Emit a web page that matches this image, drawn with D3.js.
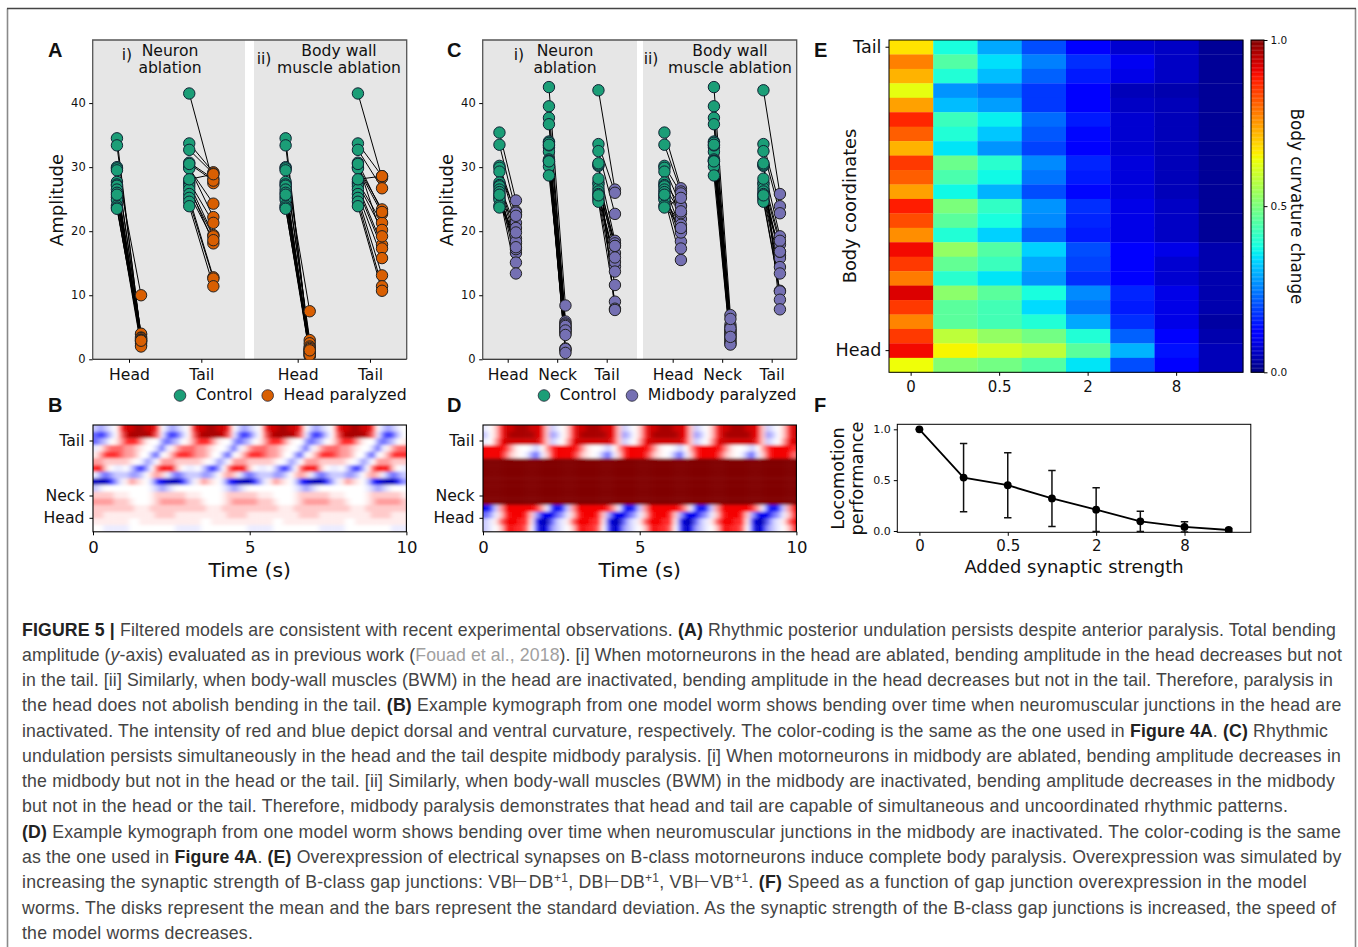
<!DOCTYPE html>
<html>
<head>
	<meta charset="utf-8">
	<title>Figure 5</title>
	<script src="https://d3js.org/d3.v7.min.js"></script>
	<style>
		html, body { margin: 0; background: #fff; }
		svg { display: block; }
		text { font-family: "DejaVu Sans", sans-serif; fill: #111; }
		.caption text, .letter { font-family: "Liberation Sans", Arial, sans-serif; }
	</style>
</head>
<body>
	<div class="chart"></div>

	<script type="text/javascript">
		// ---- panel A / C paired amplitudes, same index = same worm
		const headControlA = [34.5, 33.4, 30, 29.8, 29.5, 27.7, 27.3, 27.1, 26.5, 26, 25.3, 24.9, 24, 23.7, 23.5, 25.7]
		const headParalyzedAi = [3.2, 3.6, 10, 3.9, 4, 3.4, 3.3, 2.9, 2.8, 2.5, 2.2, 2.7, 2, 3.1, 3.0, 2.9]
		const headParalyzedAii = [1.2, 1.5, 7.5, 3, 2.5, 1, 0.8, 1.4, 0.6, 2, 0.5, 1.8, 1.1, 0.7, 1.6, 1.4]
		const tailControlA = [41.5, 33.7, 30, 29.8, 27.7, 27.4, 27, 26.5, 25.8, 25.2, 24.6, 23.9, 32.7, 30.7, 30.5, 28.1]
		const tailParalyzedAi = [27.5, 29.2, 22.2, 24.3, 21.3, 19.4, 18.1, 19.2, 18.6, 12.8, 12.6, 11.4, 29, 28.2, 27.9, 28.9]
		const tailParalyzedAii = [28.3, 28.6, 23.4, 22.7, 21.3, 20.2, 17.9, 17.3, 15.8, 13.1, 11.4, 10.7, 26.7, 23, 19.2, 28.6]

		const headControlC = [35.4, 33.5, 30.2, 29.9, 29.3, 27.6, 27.2, 27, 26.5, 26.1, 25.6, 25.2, 24.9, 24, 23.7, 25.7]
		const headParalyzedCi = [24.8, 23.1, 22.6, 21.3, 22.9, 18.9, 20.5, 18.1, 16.6, 15.1, 13.4, 18.4, 17.2, 22.4, 19.8, 17.5]
		const headParalyzedCii = [26.7, 26.2, 25.9, 24, 21.9, 23.9, 20.2, 22.8, 18.4, 17.3, 19.8, 15.5, 21, 20.5, 25.2, 23.1]
		const neckControlC = [42.5, 39.5, 37.7, 36.7, 34, 33.8, 33.1, 32.4, 31.2, 31, 30.9, 30.1, 28.7, 33.4, 33.5, 30.9]
		const neckParalyzedCi = [8.4, 5.9, 5.6, 5.4, 5, 4.8, 4.6, 4.3, 4, 1.7, 1.4, 1.6, 5.2, 4.5, 3.8, 1]
		const neckParalyzedCii = [6.9, 5.4, 5, 4.6, 4.4, 4.1, 3.9, 3.7, 3.3, 3, 2.7, 2.4, 2.3, 4.8, 6.3, 3.5]
		const tailControlC = [42, 33.6, 32.5, 30.2, 27.6, 27.3, 26.7, 26.2, 25.8, 25.4, 25, 24.6, 30.4, 30.6, 28.2, 25.6]
		const tailParalyzedCi = [26.5, 26, 22.7, 18.5, 18.1, 16.6, 17.7, 14.5, 15.2, 13.7, 11.6, 9, 7.9, 7.7, 17.7, 15.9]
		const tailParalyzedCii = [25.8, 23.9, 22.8, 19.2, 17.9, 16.2, 15.8, 16.8, 14.4, 13.4, 10.7, 10.6, 9.3, 7.8, 18.5, 16.8]

		// ---- kymographs B / D: one string per body row (tail at top), one char per time step
		// '.' = 0, 1-9 = red strength, a-i = blue strength. Spaces only split the wave cycles.
		const kymoB = [
			'bcba.57788775. bcba.57788775. bcba.57788775. bcba.57788775. bcba.',
			'dedb.47888874a dedb.47888874a dedb.47888874a dedb.47888874a dedb.',
			'dcb.1355531..c dcb.1355531..c dcb.1355531..c dcb.1355531..c dcb.1',
			'a134443321..bd a134443321..bd a134443321..bd a134443321..bd a1344',
			'135554332..cd. 135554332..cd. 135554332..cd. 135554332..cd. 13555',
			'33222221.acb.3 33222221.acb.3 33222221.acb.3 33222221.acb.3 33222',
			'562.aa.bdec.46 562.aa.bdec.46 562.aa.bdec.46 562.aa.bdec.46 562.a',
			'acdcbbbccb.232 acdcbbbccb.232 acdcbbbccb.232 acdcbbbccb.232 acdcb',
			'gggeca1321.bef gggeca1321.bef gggeca1321.bef gggeca1321.bef gggec',
			'ba.........abc ba.........abc ba.........abc ba.........abc ba...',
			'2222111....122 2222111....122 2222111....122 2222111....122 22221',
			'33332221...123 33332221...123 33332221...123 33332221...123 33332',
			'22222222111222 22222222111222 22222222111222 22222222111222 22222',
			'22111111111122 22111111111122 22111111111122 22111111111122 22111',
			'1111111..11111 1111111..11111 1111111..11111 1111111..11111 11111',
			'..aaaaa....... ..aaaaa....... ..aaaaa....... ..aaaaa....... ..aaa'
		]
		const kymoD = [
			'a.25778887762b a.25778887762b a.25778887762b a.25778887762b a.257',
			'b.25788888762c b.25788888762c b.25788888762c b.25788888762c b.257',
			'a.36777777752b a.36777777752b a.36777777752b a.36777777752b a.367',
			'6666531..ab.35 6666531..ab.35 6666531..ab.35 6666531..ab.35 66665',
			'6666421.acda25 6666421.acda25 6666421.acda25 6666421.acda25 66664',
			'99999999999999 99999999999999 99999999999999 99999999999999 99999',
			'99999999999999 99999999999999 99999999999999 99999999999999 99999',
			'99999999999999 99999999999999 99999999999999 99999999999999 99999',
			'99999999999999 99999999999999 99999999999999 99999999999999 99999',
			'99999999999999 99999999999999 99999999999999 99999999999999 99999',
			'99999999999999 99999999999999 99999999999999 99999999999999 99999',
			'99999999999999 99999999999999 99999999999999 99999999999999 99999',
			'feb366666653ae feb366666653ae feb366666653ae feb366666653ae feb36',
			'dca2566652cfff dca2566652cfff dca2566652cfff dca2566652cfff dca25',
			'ba14666551fggd ba14666551fggd ba14666551fggd ba14666551fggd ba146',
			'ba.256554.egfc ba.256554.egfc ba.256554.egfc ba.256554.egfc ba.25'
		]
		const kymoTicks = [0, 5, 10]
		const kymoBodyTicks = ['Tail', 'Neck', 'Head']

		// ---- panel E heatmap, jet position per cell: rows tail -> head, columns strength
		const heatRows = [
			[.67, .38, .29, .2, .12, .07, .06, .02],
			[.775, .45, .345, .25, .17, .1, .06, .02],
			[.72, .39, .31, .22, .15, .09, .06, .02],
			[.63, .27, .24, .18, .12, .05, .04, .02],
			[.74, .31, .28, .18, .12, .06, .05, .02],
			[.87, .42, .36, .23, .15, .07, .05, .02],
			[.81, .39, .32, .21, .13, .07, .05, .02],
			[.72, .35, .27, .19, .12, .07, .05, .02],
			[.85, .48, .4, .26, .16, .08, .05, .02],
			[.81, .44, .37, .24, .15, .08, .05, .02],
			[.74, .37, .3, .2, .13, .08, .05, .02],
			[.88, .5, .41, .27, .17, .09, .06, .02],
			[.83, .46, .38, .26, .16, .09, .06, .02],
			[.76, .39, .33, .22, .15, .09, .06, .02],
			[.9, .53, .45, .33, .2, .11, .09, .04],
			[.85, .47, .42, .29, .19, .11, .07, .04],
			[.78, .4, .35, .27, .17, .11, .07, .04],
			[.92, .52, .46, .38, .26, .16, .09, .04],
			[.85, .46, .43, .34, .24, .15, .09, .04],
			[.77, .46, .43, .39, .29, .17, .09, .03],
			[.85, .58, .53, .49, .39, .22, .12, .04],
			[.9, .65, .61, .58, .46, .3, .14, .05],
			[.64, .51, .49, .45, .35, .2, .12, .05]
		]
		const strengthTicks = ['0', '', '0.5', '', '2', '', '8', '']

		// ---- panel F
		const speedMean = [1, .525, .45, .32, .21, .095, .04, .01]
		const speedStd = [0, .335, .32, .275, .215, .1, .05, .015]

		// ---- caption, one entry per printed line: [text, style]
		const captionLines = [
			[[1336, 'FIGURE 5 | ', 'b'], ['Filtered models are consistent with recent experimental observations. '], ['(A) ', 'b'], ['Rhythmic posterior undulation persists despite anterior paralysis. Total bending']],
			[[1342, 'amplitude ('], ['y', 'i'], ['-axis) evaluated as in previous work ('], ['Fouad et al., 2018', 'g'], ['). [i] When motorneurons in the head are ablated, bending amplitude in the head decreases but not']],
			[[1333, 'in the tail. [ii] Similarly, when body-wall muscles (BWM) in the head are inactivated, bending amplitude in the head decreases but not in the tail. Therefore, paralysis in']],
			[[1341.5, 'the head does not abolish bending in the tail. '], ['(B) ', 'b'], ['Example kymograph from one model worm shows bending over time when neuromuscular junctions in the head are']],
			[[1328, 'inactivated. The intensity of red and blue depict dorsal and ventral curvature, respectively. The color-coding is the same as the one used in '], ['Figure 4A', 'b'], ['. '], ['(C) ', 'b'], ['Rhythmic']],
			[[1341, 'undulation persists simultaneously in the head and the tail despite midbody paralysis. [i] When motorneurons in midbody are ablated, bending amplitude decreases in']],
			[[1335, 'the midbody but not in the head or the tail. [ii] Similarly, when body-wall muscles (BWM) in the midbody are inactivated, bending amplitude decreases in the midbody']],
			[[1288, 'but not in the head or the tail. Therefore, midbody paralysis demonstrates that head and tail are capable of simultaneous and uncoordinated rhythmic patterns.']],
			[[1341, '(D) ', 'b'], ['Example kymograph from one model worm shows bending over time when neuromuscular junctions in the midbody are inactivated. The color-coding is the same']],
			[[1341.5, 'as the one used in '], ['Figure 4A', 'b'], ['. '], ['(E) ', 'b'], ['Overexpression of electrical synapses on B-class motorneurons induce complete body paralysis. Overexpression was simulated by']],
			[[1307, 'increasing the synaptic strength of B-class gap junctions: VB\u22a2DB'], ['+1', 's'], [', DB\u22a2DB'], ['+1', 's'], [', VB\u22a2VB'], ['+1', 's'], ['. '], ['(F) ', 'b'], ['Speed as a function of gap junction overexpression in the model']],
			[[1336, 'worms. The disks represent the mean and the bars represent the standard deviation. As the synaptic strength of the B-class gap junctions is increased, the speed of']],
			[[253, 'the model worms decreases.']]
		]

		var width = 1358
		var height = 947
		var green = '#1b9e77', orange = '#d95f02', purple = '#7570b3'

		var svg = d3.select('.chart').append('svg').attr('width', width).attr('height', height)
		var defs = svg.append('defs')

		// page frame
		svg.append('path').attr('d', 'M7.5,947V8.5M1355.5,8.5V947').attr('fill', 'none').attr('stroke', '#8a8a8a').attr('stroke-width', 1.6)
		svg.append('path').attr('d', 'M7,8.5H1356').attr('fill', 'none').attr('stroke', '#444').attr('stroke-width', 1.3)

		function letter(s, x, y) {
			svg.append('text').attr('class', 'letter').attr('x', x).attr('y', y)
				.attr('font-size', 20).attr('font-weight', 'bold').style('fill', '#111').text(s)
		}
		function label(g, s, x, y, size, rotate) {
			var t = g.append('text').attr('text-anchor', 'middle').attr('font-size', size).text(s)
			if (rotate) t.attr('transform', `translate(${x},${y}) rotate(${rotate})`)
			else t.attr('x', x).attr('y', y)
			return t
		}
		function clip(id, x, y, w, h) {
			defs.append('clipPath').attr('id', id).append('rect').attr('x', x).attr('y', y).attr('width', w).attr('height', h)
			return `url(#${id})`
		}
		function frame(g, x0, y0, x1, y1) {
			g.append('path').attr('d', `M${x0},${y1}V${y0}H${x1}V${y1}`).attr('fill', 'none').attr('stroke', '#555').attr('stroke-width', 1.3)
			g.append('path').attr('d', `M${x0},${y1}H${x1}`).attr('stroke', '#000').attr('stroke-width', 1.1)
		}
		function styleAxis(a, size) {
			a.select('.domain').remove()
			a.selectAll('line').attr('stroke', '#000')
			a.selectAll('text').attr('font-size', size).style('font-family', '"DejaVu Sans"')
			a.attr('font-family', null)
		}

		// paired dot panels A and C
		function pairPanel(o) {
			var g = svg.append('g')
			var y = d3.scaleLinear().domain([0, 49.85]).range([359.3, 40])
			var x = d3.scaleLinear().domain([0, 1]).range(o.xRange)
			o.bands.forEach(b => {
				g.append('rect').attr('x', b[0]).attr('y', 40).attr('width', b[1] - b[0]).attr('height', 319.3).attr('fill', '#e6e6e6')
			})
			frame(g, o.left, 40, o.left + 314, 359.3)

			var plot = g.append('g').attr('clip-path', clip(o.id, o.left, 40, 314, 319.3))
			o.groups.forEach(d => {
				var x0 = x(d.pos - 1 / 6), x1 = x(d.pos + 1 / 6)
				plot.append('g').selectAll('line').data(d.before).join('line')
					.attr('x1', x0).attr('x2', x1)
					.attr('y1', v => y(v)).attr('y2', (v, i) => y(d.after[i]))
					.attr('stroke', '#000').attr('stroke-width', 1)
				plot.append('g').selectAll('circle').data(d.before).join('circle')
					.attr('cx', x0).attr('cy', v => y(v)).attr('r', 5.7)
					.attr('fill', green).attr('stroke', '#123').attr('stroke-width', 1)
				plot.append('g').selectAll('circle').data(d.after).join('circle')
					.attr('cx', x1).attr('cy', v => y(v)).attr('r', 5.7)
					.attr('fill', o.color).attr('stroke', '#222').attr('stroke-width', 1)
			})

			var ax = g.append('g').attr('transform', 'translate(0,359.3)')
				.call(d3.axisBottom(x).tickValues(o.groups.map(d => d.pos)).tickFormat((d, i) => o.groups[i].name).tickSize(3.5).tickPadding(6))
			styleAxis(ax, 15.6)
			var ay = g.append('g').attr('transform', `translate(${o.left},0)`)
				.call(d3.axisLeft(y).tickValues([0, 10, 20, 30, 40]).tickSize(3.5).tickPadding(3.5))
			styleAxis(ay, 11.5)
			label(g, 'Amplitude', o.left - 30, 200, 18, -90)

			o.titles.forEach(t => {
				label(g, t.roman, t.romanX, t.romanY, 15.6)
				label(g, t.line1, t.x, 56, 15.6)
				label(g, t.line2, t.x, 73, 15.6)
			})
			o.legend.forEach(l => {
				g.append('circle').attr('cx', l.cx).attr('cy', 395.5).attr('r', 5.8).attr('fill', l.color).attr('stroke', '#223').attr('stroke-width', 0.8)
				g.append('text').attr('x', l.cx + 15.8).attr('y', 399.5).attr('font-size', 15.7).text(l.text)
			})
		}

		pairPanel({
			id: 'clipA', left: 92.7, xRange: [129, 201.3], color: orange,
			bands: [[93, 245], [254, 406.7]],
			groups: [
				{ name: 'Head', pos: 0, before: headControlA, after: headParalyzedAi },
				{ name: 'Tail', pos: 1, before: tailControlA, after: tailParalyzedAi },
				{ name: 'Head', pos: 2.333, before: headControlA, after: headParalyzedAii },
				{ name: 'Tail', pos: 3.333, before: tailControlA, after: tailParalyzedAii }
			],
			titles: [
				{ roman: 'i)', romanX: 127, romanY: 60, line1: 'Neuron', line2: 'ablation', x: 170 },
				{ roman: 'ii)', romanX: 264, romanY: 64, line1: 'Body wall', line2: 'muscle ablation', x: 339 }
			],
			legend: [{ cx: 180, color: green, text: 'Control' }, { cx: 267.7, color: orange, text: 'Head paralyzed' }]
		})
		pairPanel({
			id: 'clipC', left: 482.7, xRange: [507.7, 557.2], color: purple,
			bands: [[483, 637], [643, 796.7]],
			groups: [
				{ name: 'Head', pos: 0, before: headControlC, after: headParalyzedCi },
				{ name: 'Neck', pos: 1, before: neckControlC, after: neckParalyzedCi },
				{ name: 'Tail', pos: 2, before: tailControlC, after: tailParalyzedCi },
				{ name: 'Head', pos: 3.333, before: headControlC, after: headParalyzedCii },
				{ name: 'Neck', pos: 4.333, before: neckControlC, after: neckParalyzedCii },
				{ name: 'Tail', pos: 5.333, before: tailControlC, after: tailParalyzedCii }
			],
			titles: [
				{ roman: 'i)', romanX: 519, romanY: 60, line1: 'Neuron', line2: 'ablation', x: 565 },
				{ roman: 'ii)', romanX: 651, romanY: 64, line1: 'Body wall', line2: 'muscle ablation', x: 730 }
			],
			legend: [{ cx: 544, color: green, text: 'Control' }, { cx: 632, color: purple, text: 'Midbody paralyzed' }]
		})

		// kymographs
		var seismic = d3.scaleLinear().domain([-1, -.5, 0, .5, 1]).range(['#00004c', '#0000ff', '#ffffff', '#ff0000', '#800000'])
		function level(c) {
			if (c === '.') return 0
			var n = '123456789'.indexOf(c)
			if (n >= 0) return Math.pow((n + 1) / 9, 1.5)
			return -Math.pow(('abcdefghi'.indexOf(c) + 1) / 9, 1.5)
		}
		defs.append('filter').attr('id', 'soft').attr('filterUnits', 'userSpaceOnUse')
			.attr('x', 0).attr('y', 380).attr('width', 900).attr('height', 200)
			.append('feGaussianBlur').attr('stdDeviation', '2.6 1.8')

		function kymo(id, rows, left) {
			var x0 = left, x1 = left + 313.4, y0 = 425, y1 = 531.8
			var g = svg.append('g')
			var cells = rows.map(r => r.replace(/ /g, ''))
			var nCols = d3.max(cells, r => r.length)
			var col = d3.scaleBand().domain(d3.range(nCols)).range([x0, x1])
			var row = d3.scaleBand().domain(d3.range(cells.length)).range([y0, y1])
			var inner = g.append('g').attr('clip-path', clip(id, x0, y0, x1 - x0, y1 - y0))
				.append('g').attr('filter', 'url(#soft)')
			cells.forEach((r, j) => {
				inner.append('g').selectAll('rect').data(r.split('')).join('rect')
					.attr('x', (c, i) => col(i) - (i === 0 ? 10 : 0))
					.attr('width', (c, i) => col.bandwidth() + .4 + (i === 0 || i === nCols - 1 ? 10 : 0))
					.attr('y', row(j) - (j === 0 ? 10 : 0))
					.attr('height', row.bandwidth() + .4 + (j === 0 || j === cells.length - 1 ? 10 : 0))
					.attr('fill', c => seismic(level(c)))
			})
			g.append('rect').attr('x', x0).attr('y', y0).attr('width', x1 - x0).attr('height', y1 - y0)
				.attr('fill', 'none').attr('stroke', '#000').attr('stroke-width', 1.1)

			var t = d3.scaleLinear().domain([0, 10]).range([x0, x1])
			var ax = g.append('g').attr('transform', `translate(0,${y1})`)
				.call(d3.axisBottom(t).tickValues(kymoTicks).tickFormat(d3.format('d')).tickSize(3.5).tickPadding(6))
			styleAxis(ax, 16.5)
			var body = d3.scaleOrdinal().domain(kymoBodyTicks).range([441, 496, 518.3])
			var ay = g.append('g').attr('transform', `translate(${x0},0)`)
				.call(d3.axisLeft(body).tickSize(3.5).tickPadding(5))
			ay.selectAll('.tick').attr('transform', d => `translate(0,${body(d)})`)
			styleAxis(ay, 15.7)
			label(g, 'Time (s)', (x0 + x1) / 2, 576.5, 20.3)
		}
		kymo('clipB', kymoB, 93)
		kymo('clipD', kymoD, 483)

		// panel E heatmap and colorbar
		var jetR = d3.scaleLinear().domain([0, .35, .66, .89, 1]).range([0, 0, 1, 1, .5])
		var jetG = d3.scaleLinear().domain([0, .125, .375, .64, .91, 1]).range([0, 0, 1, 1, 0, 0])
		var jetB = d3.scaleLinear().domain([0, .11, .34, .65, 1]).range([.5, 1, 1, 0, 0])
		var jet = t => d3.rgb(jetR(t) * 255, jetG(t) * 255, jetB(t) * 255).formatHex()

		var gE = svg.append('g')
		var ex = d3.scaleBand().domain(d3.range(8)).range([889, 1243])
		var ey = d3.scaleBand().domain(d3.range(heatRows.length)).range([40, 372.3])
		heatRows.forEach((r, j) => {
			gE.append('g').selectAll('rect').data(r).join('rect')
				.attr('x', (v, i) => ex(i)).attr('y', ey(j))
				.attr('width', ex.bandwidth() + .3).attr('height', ey.bandwidth() + .3)
				.attr('fill', v => jet(v))
		})
		gE.append('rect').attr('x', 889).attr('y', 40).attr('width', 354).attr('height', 332.3).attr('fill', 'none').attr('stroke', '#000').attr('stroke-width', 1)
		var eax = gE.append('g').attr('transform', 'translate(0,372.3)')
			.call(d3.axisBottom(ex).tickValues(d3.range(0, 8, 2)).tickFormat(i => strengthTicks[i]).tickSize(3.5).tickPadding(6))
		styleAxis(eax, 15)
		var eay = gE.append('g').attr('transform', 'translate(889,0)')
			.call(d3.axisLeft(ey).tickValues([0, 21]).tickFormat(i => (i === 0 ? 'Tail' : 'Head')).tickSize(3.5).tickPadding(4))
		styleAxis(eay, 17.6)
		label(gE, 'Body coordinates', 856, 206, 17.8, -90)

		var cb = d3.scaleLinear().domain([0, 1]).range([372.3, 40])
		gE.append('g').selectAll('rect').data(d3.range(0, 1, 1 / 256)).join('rect')
			.attr('x', 1251).attr('width', 13)
			.attr('y', v => cb(v + 1 / 256)).attr('height', 1.6)
			.attr('fill', v => jet(v))
		gE.append('rect').attr('x', 1251).attr('y', 40).attr('width', 13).attr('height', 332.3).attr('fill', 'none').attr('stroke', '#000').attr('stroke-width', 1)
		var cax = gE.append('g').attr('transform', 'translate(1264,0)')
			.call(d3.axisRight(cb).tickValues([0, .5, 1]).tickFormat(d3.format('.1f')).tickSize(3.5).tickPadding(3))
		styleAxis(cax, 10.5)
		label(gE, 'Body curvature change', 1291, 206.5, 16.8, 90)

		// panel F
		var gF = svg.append('g')
		var fx = d3.scaleLinear().domain([-.5, 7.5]).range([897.3, 1250.8])
		var fy = d3.scaleLinear().domain([0, 1]).range([531, 429.3])
		gF.append('rect').attr('x', 897.3).attr('y', 424.3).attr('width', 353.5).attr('height', 108).attr('fill', 'none').attr('stroke', '#000').attr('stroke-width', 1)
		var fplot = gF.append('g').attr('clip-path', clip('clipF', 897.3, 424.3, 353.5, 108.5))
		var lineF = d3.line().x((d, i) => fx(i)).y(d => fy(d))
		fplot.append('path').attr('d', lineF(speedMean)).attr('fill', 'none').attr('stroke', '#000').attr('stroke-width', 1.8)
		speedMean.forEach((m, i) => {
			var lo = fy(m - speedStd[i]), hi = fy(m + speedStd[i])
			fplot.append('path').attr('d', `M${fx(i)},${lo}V${hi}M${fx(i) - 3.7},${lo}h7.4M${fx(i) - 3.7},${hi}h7.4`)
				.attr('fill', 'none').attr('stroke', '#111').attr('stroke-width', 1.5)
		})
		fplot.append('g').selectAll('circle').data(speedMean).join('circle')
			.attr('cx', (d, i) => fx(i)).attr('cy', d => fy(d)).attr('r', 3.9).attr('fill', '#000')
		var fax = gF.append('g').attr('transform', 'translate(0,532.3)')
			.call(d3.axisBottom(fx).tickValues(d3.range(0, 8, 2)).tickFormat(i => strengthTicks[i]).tickSize(3.5).tickPadding(5))
		styleAxis(fax, 15)
		var fay = gF.append('g').attr('transform', 'translate(897.3,0)')
			.call(d3.axisLeft(fy).tickValues([0, .5, 1]).tickFormat(d3.format('.1f')).tickSize(3.5).tickPadding(3))
		styleAxis(fay, 11)
		label(gF, 'Added synaptic strength', 1074, 573, 17.9)
		label(gF, 'Locomotion', 844, 478.5, 17.6, -90)
		label(gF, 'performance', 863, 478.5, 17.8, -90)

		letter('A', 48, 57)
		letter('B', 48, 412)
		letter('C', 447, 57)
		letter('D', 447, 412)
		letter('E', 814, 57)
		letter('F', 814, 412)

		// caption, each line spaced out to the width it has in the picture
		var cap = svg.append('g').attr('class', 'caption')
		captionLines.forEach((segs, n) => {
			var t = cap.append('text').attr('x', 22).attr('y', 635.5 + n * 25.28).attr('font-size', 17.7).style('fill', '#444')
			var right = segs[0][0]
			segs.forEach((s, i) => {
				var txt = i === 0 ? s[1] : s[0], kind = i === 0 ? s[2] : s[1]
				var ts = t.append('tspan').text(txt)
				if (kind === 'b') ts.attr('font-weight', 'bold').style('fill', '#222')
				if (kind === 'i') ts.attr('font-style', 'italic')
				if (kind === 'g') ts.style('fill', '#a0a0a0')
				if (kind === 's') ts.attr('font-size', 12).attr('dy', -6)
				var prev = i === 0 ? null : (i === 1 ? segs[0][2] : segs[i - 1][1])
				if (prev === 's') ts.attr('dy', 6)
			})
			var node = t.node()
			t.style('letter-spacing', ((right - 22 - node.getComputedTextLength()) / node.getNumberOfChars()) + 'px')
		})
	</script>
</body>
</html>
